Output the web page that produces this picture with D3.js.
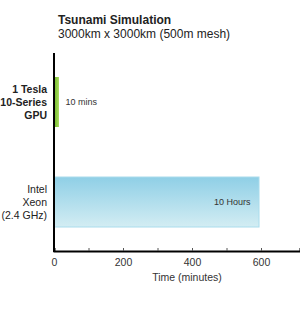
<!DOCTYPE html>
<html><head><meta charset="utf-8">
<script src="https://cdn.jsdelivr.net/npm/d3@7"></script>
<style>body{margin:0;background:#fff}svg{display:block}</style>
</head><body>
<svg id="c" width="300" height="319"></svg>
<script>
const categories = [["1 Tesla","10-Series","GPU"], ["Intel","Xeon","(2.4 GHz)"]];
const categoryKeys = ["gpu","cpu"];
const values = [10, 600];
const valueLabels = ["10 mins", "10 Hours"];
const tickValues = [0, 100, 200, 300, 400, 500, 600];
const tickLabels = ["0", "", "200", "", "400", "", "600"];
const title = "Tsunami Simulation";
const subtitle = "3000km x 3000km (500m mesh)";
const xTitle = "Time (minutes)";

const FONT = "Liberation Sans, Arial, sans-serif";
const svg = d3.select("#c");
const x = d3.scaleLinear().domain([0, 713]).range([54, 300]);
const y = d3.scaleBand().domain(categoryKeys).range([52, 252]).paddingInner(0.5).paddingOuter(0.25);

const defs = svg.append("defs");
const g1 = defs.append("linearGradient").attr("id","blue").attr("x1",0).attr("y1",0).attr("x2",0).attr("y2",1);
g1.append("stop").attr("offset","0%").attr("stop-color","#8fcfe6");
g1.append("stop").attr("offset","100%").attr("stop-color","#d3edf3");
const g2 = defs.append("linearGradient").attr("id","green").attr("x1",0).attr("y1",0).attr("x2",1).attr("y2",0);
g2.append("stop").attr("offset","0%").attr("stop-color","#6fb82a");
g2.append("stop").attr("offset","100%").attr("stop-color","#a6d95a");

svg.append("text").attr("x",58).attr("y",23.5).attr("font-family",FONT).attr("font-weight","bold").attr("font-size",12).attr("fill","#222").text(title);
svg.append("text").attr("x",58).attr("y",37.5).attr("font-family",FONT).attr("font-size",12).attr("fill","#222").text(subtitle);

const fills = ["url(#green)","url(#blue)"];
svg.selectAll("rect.bar").data(values).join("rect").attr("class","bar")
  .attr("x", x(0)).attr("y",(d,i)=>y(categoryKeys[i]))
  .attr("width",(d,i)=> i===0 ? Math.max(x(d)-x(0)+1.5,4) : x(d)-x(0)-2)
  .attr("height", y.bandwidth())
  .attr("fill",(d,i)=>fills[i])
  .attr("stroke",(d,i)=> i===0 ? "none" : "#a9dcec").attr("stroke-width",1);

svg.selectAll("text.vl").data(values).join("text").attr("class","vl")
  .attr("x",(d,i)=> i===0 ? x(d)+8 : x(d)-47)
  .attr("y",(d,i)=> y(categoryKeys[i]) + y.bandwidth()/2 + 3)
  .attr("font-family",FONT).attr("font-size",9).attr("fill","#333")
  .text((d,i)=>valueLabels[i]);

categoryKeys.forEach((k,i)=>{
  const t = svg.append("text").attr("text-anchor","end").attr("font-family",FONT)
    .attr("font-size",10.5).attr("fill","#222").attr("font-weight", i===0?"bold":"normal");
  const cy = y(k) + y.bandwidth()/2;
  categories[i].forEach((line,j)=>{
    t.append("tspan").attr("x",47).attr("y", cy + (j-1)*13 + 4).text(line);
  });
});

const axis = d3.axisBottom(x).tickValues(tickValues).tickSize(-3).tickFormat((d,i)=>tickLabels[i]);
const ag = svg.append("g").attr("transform","translate(0,251)").call(axis);
ag.select(".domain").attr("stroke","#000").attr("stroke-width",2);
ag.selectAll(".tick line").attr("stroke","#555");
ag.selectAll(".tick text").attr("font-family",FONT).attr("font-size",10.5).attr("fill","#333").attr("dy","1.1em");
svg.append("line").attr("x1",54).attr("x2",54).attr("y1",53).attr("y2",252).attr("stroke","#000").attr("stroke-width",2);

svg.append("text").attr("x",187).attr("y",281).attr("text-anchor","middle").attr("font-family",FONT).attr("font-size",10.5).attr("fill","#333").text(xTitle);
</script>
</body></html>
